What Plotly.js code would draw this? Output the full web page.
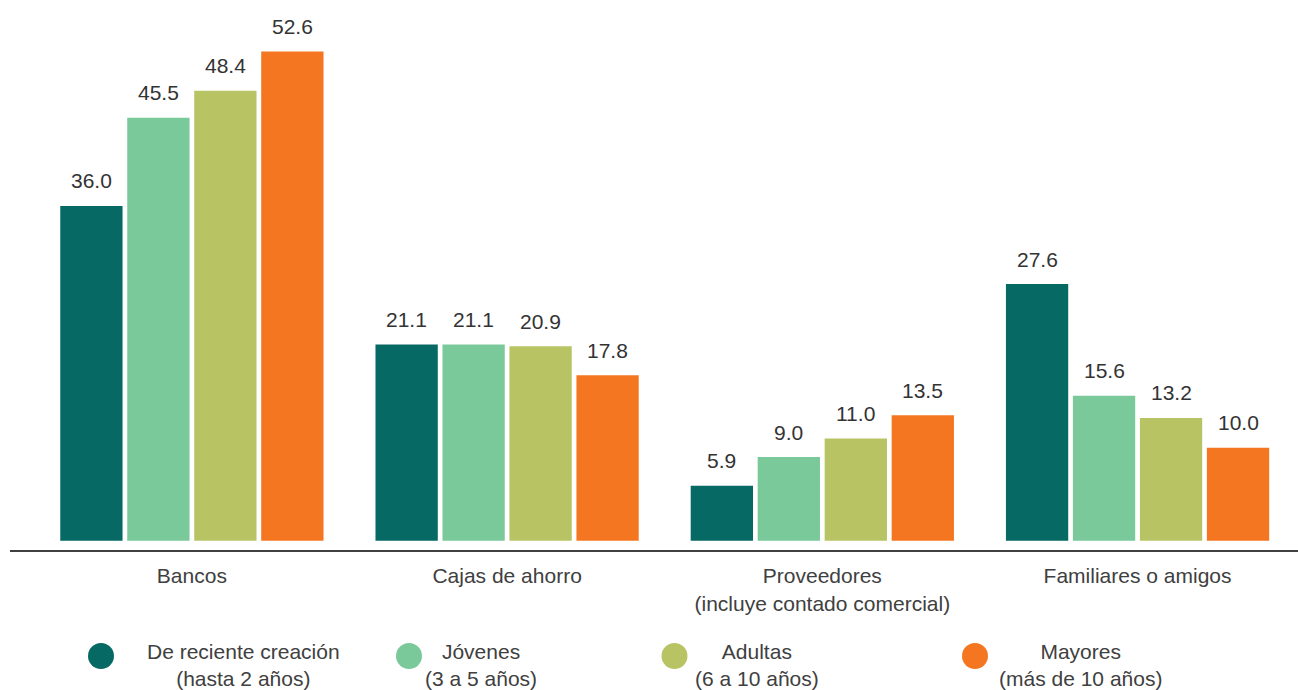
<!DOCTYPE html>
<html>
<head>
<meta charset="utf-8">
<script src="https://cdn.plot.ly/plotly-3.0.1.min.js"></script>
<style>html,body{margin:0;padding:0;background:#fff;}#chart{width:1298px;height:690px;}</style>
</head>
<body>
<div id="chart"></div>
<script>
// ---- data ----
const categories = ["Bancos", "Cajas de ahorro", "Proveedores<br>(incluye contado comercial)", "Familiares o amigos"];
const seriesNames = ["De reciente creación<br>(hasta 2 años)", "Jóvenes<br>(3 a 5 años)", "Adultas<br>(6 a 10 años)", "Mayores<br>(más de 10 años)"];
const recienteCreacion = [36.0, 21.1, 5.9, 27.6];
const jovenes = [45.5, 21.1, 9.0, 15.6];
const adultas = [48.4, 20.9, 11.0, 13.2];
const mayores = [52.6, 17.8, 13.5, 10.0];
const seriesValues = [recienteCreacion, jovenes, adultas, mayores];
const colors = ["#066964", "#7AC99B", "#B8C464", "#F47621"];

// ---- style ----
const FONT = "Liberation Sans, Arial, sans-serif";
const slotPx = 67; // pixel width of each bar slot in a group

const traces = seriesValues.map((vals, i) => ({
  type: "bar",
  name: seriesNames[i],
  x: categories,
  y: vals,
  marker: {color: colors[i]},
  showlegend: false,
  hoverinfo: "x+y"
}));

const annotations = [];
seriesValues.forEach((vals, i) => {
  vals.forEach((v, j) => {
    annotations.push({
      x: categories[j], y: v, xref: "x", yref: "y",
      text: v.toFixed(1), showarrow: false,
      xshift: (i - 1.5) * slotPx, yshift: 25, yanchor: "middle",
      font: {family: FONT, size: 21, color: "#333333"}
    });
  });
});

// custom legend (circle + centered two-line text)
const legendCircleX = [101, 409, 674.5, 975];
const legendTextX = [243, 481, 757, 1080];
const shapes = [];
seriesNames.forEach((name, i) => {
  shapes.push({
    type: "circle", xref: "paper", yref: "paper",
    xsizemode: "pixel", ysizemode: "pixel",
    xanchor: (legendCircleX[i] - 10) / 1288, yanchor: (690 - 656 - 140) / 530,
    x0: -13, x1: 13, y0: -13, y1: 13,
    fillcolor: colors[i], line: {width: 0}
  });
  annotations.push({
    xref: "paper", yref: "paper",
    x: (legendTextX[i] - 10) / 1288, y: (690 - 665 - 140) / 530,
    xanchor: "center", yanchor: "middle", align: "center",
    text: name, showarrow: false, borderpad: 0,
    font: {family: FONT, size: 21, color: "#404040"}
  });
});

const layout = {
  width: 1298, height: 690,
  margin: {l: 10, r: 0, t: 20, b: 140},
  paper_bgcolor: "#ffffff", plot_bgcolor: "#ffffff",
  barmode: "group", bargap: 0.15, bargroupgap: 0.07,
  showlegend: false,
  font: {family: FONT, size: 21, color: "#404040"},
  xaxis: {
    type: "category", range: [-0.577, 3.509],
    showline: true, linecolor: "#404040", linewidth: 2,
    ticks: "", ticklabelstandoff: 6,
    showgrid: false, zeroline: false,
    tickfont: {family: FONT, size: 21, color: "#404040"}
  },
  yaxis: {
    range: [-1.0, 56.0], visible: false, showgrid: false, zeroline: false
  },
  annotations: annotations,
  shapes: shapes
};

Plotly.newPlot("chart", traces, layout, {displayModeBar: false, staticPlot: true});
</script>
</body>
</html>
